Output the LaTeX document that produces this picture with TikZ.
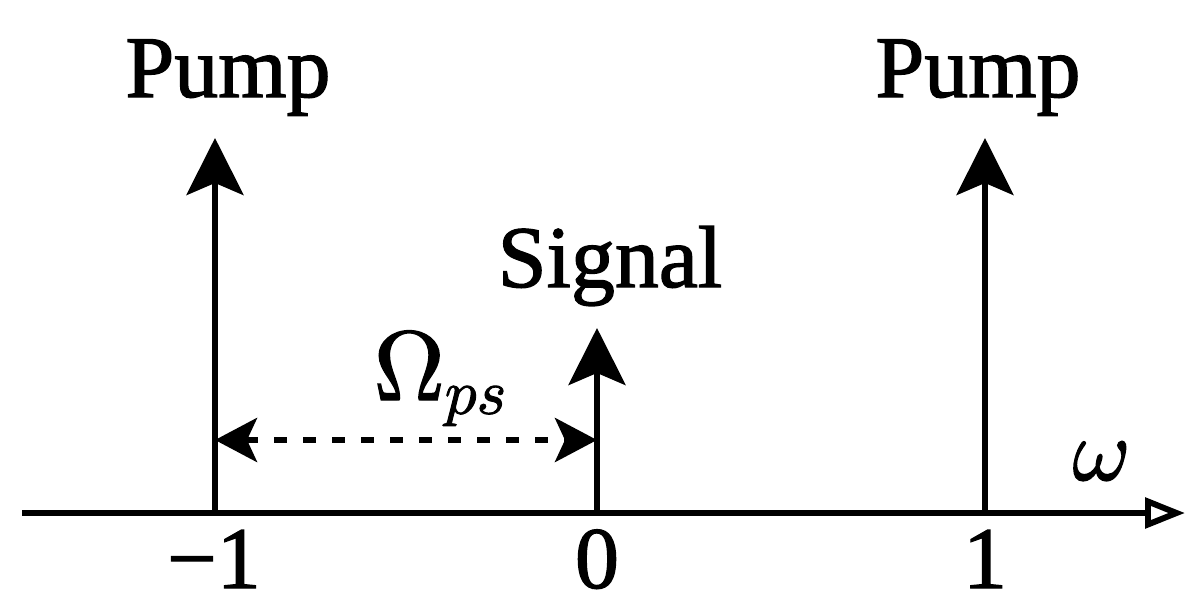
\documentclass[tikz,border=0pt]{standalone}
\usepackage{amsmath}
\usepackage{fontspec}
\setmainfont{Liberation Serif}[FakeBold=1.5]
\newfontfamily\mathheavy{latinmodern-math.otf}[FakeBold=1.5]
\usepackage{tikz}
\usetikzlibrary{arrows.meta}

\begin{document}
\begin{tikzpicture}
        \useasboundingbox (0,0) rectangle (11.97,6.14);

        % points on the axis and arrow tips
        \coordinate (a0) at (0.22,1.01);
        \coordinate (a1) at (11.85,1.01);
        \coordinate (pl) at (2.15,1.01);
        \coordinate (s) at (5.97,1.01);
        \coordinate (pr) at (9.85,1.01);
        \coordinate (plt) at (2.15,4.76);
        \coordinate (st) at (5.97,2.86);
        \coordinate (prt) at (9.85,4.76);
        \coordinate (dl) at (2.15,1.74);
        \coordinate (dr) at (5.97,1.74);

        \begin{scope}[every node/.style={anchor=base,inner sep=0pt,font=\fontsize{25}{30}\selectfont}]
            \node (pumpl) at (2.28,5.17) {Pump};
            \node (pumpr) at (9.78,5.17) {Pump};
            \node (sig) at (6.10,3.27) {Signal};
            \node (om) at (4.40,2.14) {\fontsize{28}{32}\selectfont\mathheavy Ω\raisebox{-3.9pt}{\fontsize{18}{20}\selectfont 𝑝𝑠}};
            \node (w) at (11.00,1.34) {\mathheavy 𝜔};
            \node (tm1) at (2.14,0.26) {−1};
            \node (t0) at (5.97,0.26) {0};
            \node (t1) at (9.85,0.26) {1};
        \end{scope}

        \begin{scope}[line width=1.7pt]
            \draw [-{Triangle[open,length=4mm,width=3mm]}] (a0) -- (a1);
            \draw [-{Stealth[length=5.7mm,width=5.7mm,inset=1.2mm]}] (pl) -- (plt);
            \draw [-{Stealth[length=5.7mm,width=5.7mm,inset=1.2mm]}] (s) -- (st);
            \draw [-{Stealth[length=5.7mm,width=5.7mm,inset=1.2mm]}] (pr) -- (prt);
            \draw [dash pattern=on 1.3mm off 1.6mm,
                {Stealth[length=4.2mm,width=4.4mm,inset=1mm]}-{Stealth[length=4.2mm,width=4.4mm,inset=1mm]}] (dl) -- (dr);
        \end{scope}
    \end{tikzpicture}
\end{document}
